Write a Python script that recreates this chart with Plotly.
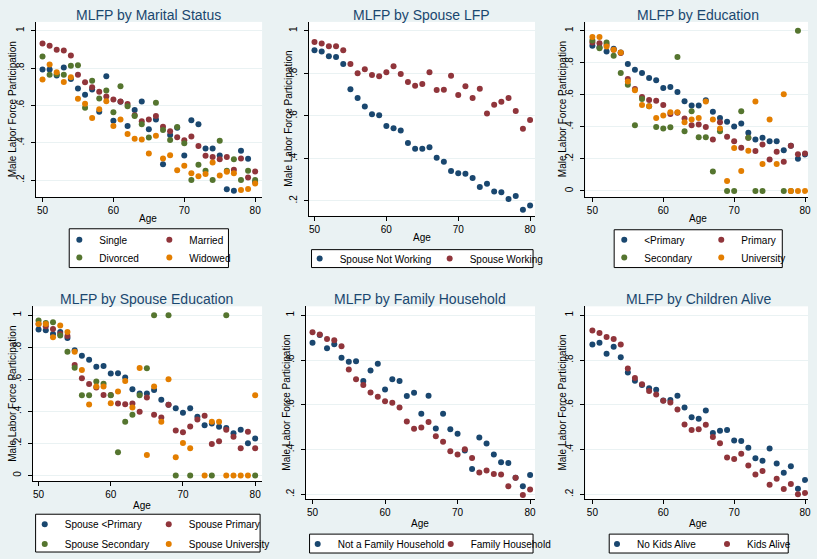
import plotly.graph_objects as go

AGE = list(range(50, 81))

# ---- MLFP by Marital Status
marital_single = [0.792, 0.792, 0.760, 0.804, 0.742, 0.691, 0.657, 0.685, 0.566, 0.756,
                  0.518, 0.620, 0.490, 0.575, 0.621, 0.472, 0.525, 0.285, 0.442, 0.480,
                  0.332, 0.520, 0.499, 0.369, 0.369, 0.332, 0.150, 0.143, 0.357, 0.314, 0.190]
marital_married = [0.932, 0.920, 0.899, 0.895, 0.868, 0.764, 0.724, 0.698, 0.673, 0.648,
                   0.632, 0.621, 0.607, 0.547, 0.515, 0.525, 0.543, 0.486, 0.461, 0.429,
                   0.413, 0.433, 0.383, 0.330, 0.324, 0.312, 0.323, 0.255, 0.316, 0.214, 0.246]
marital_divorced = [0.863, 0.764, 0.767, 0.764, 0.813, 0.815, 0.588, 0.732, 0.637, 0.680,
                    0.564, 0.703, 0.596, 0.543, 0.499, 0.428, 0.614, 0.468, 0.415, 0.484,
                    0.397, 0.200, 0.282, 0.250, 0.200, 0.410, 0.250, 0.312, 0.200, 0.250, 0.200]
marital_widowed = [0.739, 0.819, 0.778, 0.726, 0.751, 0.636, 0.609, 0.532, 0.579, 0.623,
                   0.490, 0.525, 0.447, 0.422, 0.417, 0.342, 0.438, 0.316, 0.333, 0.252,
                   0.276, 0.236, 0.220, 0.232, 0.294, 0.224, 0.244, 0.237, 0.147, 0.152, 0.182]

# ---- MLFP by Spouse LFP
spouse_not_working = [0.909, 0.903, 0.880, 0.877, 0.844, 0.725, 0.684, 0.644, 0.608, 0.603,
                      0.552, 0.542, 0.531, 0.472, 0.445, 0.445, 0.453, 0.403, 0.384, 0.341,
                      0.330, 0.328, 0.308, 0.266, 0.281, 0.244, 0.241, 0.209, 0.223, 0.158, 0.178]
spouse_working = [0.947, 0.941, 0.927, 0.928, 0.909, 0.844, 0.800, 0.819, 0.792, 0.786,
                  0.805, 0.833, 0.797, 0.759, 0.742, 0.750, 0.805, 0.722, 0.723, 0.789,
                  0.698, 0.739, 0.684, 0.727, 0.611, 0.652, 0.666, 0.684, 0.623, 0.539, 0.580]

# ---- MLFP by Education
edu_less_primary = [0.907, 0.898, 0.871, 0.888, 0.865, 0.793, 0.757, 0.737, 0.705, 0.691,
                    0.643, 0.649, 0.618, 0.560, 0.533, 0.533, 0.566, 0.494, 0.456, 0.432,
                    0.402, 0.421, 0.363, 0.322, 0.332, 0.311, 0.311, 0.255, 0.282, 0.201, 0.228]
edu_primary = [0.927, 0.923, 0.913, 0.882, 0.861, 0.699, 0.637, 0.587, 0.568, 0.564,
               0.537, 0.481, 0.488, 0.452, 0.411, 0.415, 0.400, 0.322, 0.429, 0.338,
               0.311, 0.270, 0.332, 0.249, 0.290, 0.197, 0.245, 0.183, 0.282, 0.230, 0.234]
edu_secondary = [0.940, 0.892, 0.927, 0.844, 0.737, 0.664, 0.411, 0.575, 0.529, 0.400,
                 0.390, 0.398, 0.836, 0.373, 0.498, 0.336, 0.336, 0.122, 0.373, 0.000,
                 0.000, 0.498, 0.332, 0.000, 0.000, None, None, 0.000, 0.000, 1.000, None]
edu_university = [0.961, 0.961, 0.902, 0.882, 0.865, 0.683, 0.629, 0.537, 0.529, 0.456,
                  0.471, 0.492, 0.492, 0.429, 0.446, 0.456, 0.558, 0.446, 0.390, 0.062,
                  0.268, 0.124, 0.251, 0.558, 0.168, 0.446, 0.168, 0.604, 0.000, 0.000, 0.000]

# ---- MLFP by Spouse Education
sp_edu_less_primary = [0.911, 0.907, 0.884, 0.896, 0.859, 0.781, 0.747, 0.723, 0.679, 0.683,
                       0.636, 0.638, 0.611, 0.538, 0.511, 0.511, 0.534, 0.472, 0.441, 0.420,
                       0.391, 0.420, 0.366, 0.313, 0.325, 0.304, 0.296, 0.263, 0.286, 0.201, 0.230]
sp_edu_primary = [0.946, 0.932, 0.915, 0.884, 0.870, 0.689, 0.607, 0.571, 0.549, 0.503,
                  0.503, 0.449, 0.445, 0.449, 0.398, 0.487, 0.379, 0.362, 0.441, 0.280,
                  0.269, 0.306, 0.350, 0.373, 0.197, 0.213, 0.286, 0.242, 0.170, 0.273, 0.170]
sp_edu_secondary = [0.967, 0.952, 0.957, 0.874, 0.772, 0.673, 0.501, 0.501, 0.586, 0.573,
                    0.501, 0.145, 0.335, 0.379, 0.501, 0.669, 1.000, None, 1.000, 0.000,
                    None, 0.000, None, None, 0.000, None, 1.000, None, None, None, 0.000]
sp_edu_university = [0.946, 0.946, 0.863, 0.936, 0.896, 0.772, 0.658, 0.443, 0.555, 0.555,
                     0.451, 0.524, 0.590, 0.424, 0.671, 0.128, 0.555, 0.335, 0.600, 0.114,
                     0.203, 0.170, None, 0.000, 0.335, 0.335, 0.000, 0.000, 0.000, 0.000, 0.501]

# ---- MLFP by Family Household
not_family_hh = [0.877, 0.912, 0.853, 0.871, 0.810, 0.792, 0.795, 0.706, 0.753, 0.783,
                 0.668, 0.714, 0.706, 0.639, 0.654, 0.560, 0.640, 0.494, 0.560, 0.491,
                 0.471, 0.396, 0.313, 0.454, 0.427, 0.378, 0.343, 0.340, 0.274, 0.236, 0.286]
family_hh = [0.924, 0.914, 0.894, 0.888, 0.862, 0.758, 0.714, 0.688, 0.655, 0.636,
             0.616, 0.609, 0.588, 0.526, 0.493, 0.499, 0.523, 0.459, 0.435, 0.393,
             0.378, 0.401, 0.362, 0.298, 0.306, 0.291, 0.289, 0.236, 0.274, 0.197, 0.222]

# ---- MLFP by Children Alive
no_kids_alive = [0.869, 0.877, 0.828, 0.859, 0.813, 0.744, 0.707, 0.688, 0.674, 0.667,
                 0.619, 0.622, 0.640, 0.588, 0.545, 0.538, 0.575, 0.474, 0.484, 0.487,
                 0.441, 0.438, 0.408, 0.361, 0.350, 0.405, 0.338, 0.297, 0.326, 0.225, 0.264]
kids_alive = [0.932, 0.921, 0.903, 0.894, 0.869, 0.762, 0.720, 0.692, 0.662, 0.646,
              0.618, 0.610, 0.579, 0.512, 0.488, 0.491, 0.511, 0.456, 0.428, 0.365,
              0.358, 0.381, 0.329, 0.289, 0.304, 0.243, 0.270, 0.224, 0.246, 0.200, 0.206]

YTICKS_02 = [0.2, 0.4, 0.6, 0.8, 1.0]
YTEXT_02 = [".2", ".4", ".6", ".8", "1"]
YTICKS_0 = [0.0, 0.2, 0.4, 0.6, 0.8, 1.0]
YTEXT_0 = ["0", ".2", ".4", ".6", ".8", "1"]
XTICKS = [50, 60, 70, 80]

NAVY, MAROON, GREEN, ORANGE = "#1a476f", "#90353b", "#55752f", "#e37e00"
BG = "#eaf2f3"
FONT = "Liberation Sans, Arial, sans-serif"
W, H = 817, 559


def fx(px):
    return px / W


def fy(py):
    return 1 - py / H


# layout of each panel in pixels: plot box (x0, x1, top, bottom), pixel anchors
# for the axis scales, title / axis-title placement and legend rows
panels = [
    dict(title="MLFP by Marital Status",
         series=[("Single", marital_single, NAVY), ("Married", marital_married, MAROON),
                 ("Divorced", marital_divorced, GREEN), ("Widowed", marital_widowed, ORANGE)],
         box=(36, 265, 22, 198), xa=(43, 258), ya=((31, 1.0), (181, 0.2)), yt=(YTICKS_02, YTEXT_02),
         tpos=(150, 15), ytx=13, xtpos=(150, 220),
         frame=(70, 231, 230, 269), rows=[(241, (78, 168)), (259, (78, 168))]),
    dict(title="MLFP by Spouse LFP",
         series=[("Spouse Not Working", spouse_not_working, NAVY),
                 ("Spouse Working", spouse_working, MAROON)],
         box=(312, 541, 22, 217), xa=(318, 536), ya=((31, 1.0), (202, 0.2)), yt=(YTICKS_02, YTEXT_02),
         tpos=(426, 15), ytx=292, xtpos=(427, 239),
         frame=(315, 539, 251, 269), rows=[(260, (321, 451))]),
    dict(title="MLFP by Education",
         series=[("<Primary", edu_less_primary, NAVY), ("Primary", edu_primary, MAROON),
                 ("Secondary", edu_secondary, GREEN), ("University", edu_university, ORANGE)],
         box=(592, 817, 22, 198), xa=(599, 814), ya=((31, 1.0), (192, 0.0)), yt=(YTICKS_0, YTEXT_0),
         tpos=(706, 15), ytx=569, xtpos=(706, 220),
         frame=(621, 791, 231, 269), rows=[(241, (629, 726)), (259, (629, 726))]),
    dict(title="MLFP by Spouse Education",
         series=[("Spouse <Primary", sp_edu_less_primary, NAVY),
                 ("Spouse Primary", sp_edu_primary, MAROON),
                 ("Spouse Secondary", sp_edu_secondary, GREEN),
                 ("Spouse University", sp_edu_university, ORANGE)],
         box=(33, 265, 308, 484), xa=(39, 258), ya=((317, 1.0), (478, 0.0)), yt=(YTICKS_0, YTEXT_0),
         tpos=(148, 301), ytx=13, xtpos=(144, 508),
         frame=(36, 263, 517, 555), rows=[(527, (43, 167)), (547, (43, 167))]),
    dict(title="MLFP by Family Household",
         series=[("Not a Family Household", not_family_hh, NAVY),
                 ("Family Household", family_hh, MAROON)],
         box=(309, 541, 308, 502), xa=(316, 536), ya=((317, 1.0), (497, 0.2)), yt=(YTICKS_02, YTEXT_02),
         tpos=(425, 301), ytx=290, xtpos=(425, 526),
         frame=(313, 539, 537, 556), rows=[(547, (319, 452))]),
    dict(title="MLFP by Children Alive",
         series=[("No Kids Alive", no_kids_alive, NAVY), ("Kids Alive", kids_alive, MAROON)],
         box=(592, 817, 308, 502), xa=(599, 814), ya=((317, 1.0), (497, 0.2)), yt=(YTICKS_02, YTEXT_02),
         tpos=(706, 301), ytx=569, xtpos=(706, 526),
         frame=(616, 797, 537, 556), rows=[(547, (622, 732))]),
]

fig = go.Figure()
layout = dict(width=W, height=H, margin=dict(l=0, r=0, t=0, b=0),
              paper_bgcolor=BG, plot_bgcolor="white",
              font=dict(family=FONT, size=10, color="black"),
              showlegend=True, annotations=[], shapes=[])

legend_count = 0
for i, p in enumerate(panels, start=1):
    sfx = "" if i == 1 else str(i)
    x0, x1, top, bot = p["box"]
    p50, p80 = p["xa"]
    sx = (p80 - p50) / 30.0
    xr = [50 - (p50 - x0) / sx, 80 + (x1 - p80) / sx]
    (pa, va), (pb, vb) = p["ya"]
    sy = (pb - pa) / (va - vb)
    yr = [vb - (bot - pb) / sy, va + (pa - top) / sy]

    layout["xaxis" + sfx] = dict(domain=[fx(x0), fx(x1)], anchor="y" + sfx, range=xr,
                                 tickvals=XTICKS, ticks="outside", ticklen=4, tickcolor="black",
                                 showline=True, linecolor="black", linewidth=1,
                                 showgrid=False, zeroline=False,
                                 tickfont=dict(size=10, color="black"))
    layout["yaxis" + sfx] = dict(domain=[fy(bot), fy(top)], anchor="x" + sfx, range=yr,
                                 tickvals=p["yt"][0], ticktext=p["yt"][1], tickangle=-90,
                                 ticks="outside", ticklen=4, tickcolor="black",
                                 ticklabelstandoff=3,
                                 showline=True, linecolor="black", linewidth=1,
                                 showgrid=True, gridcolor=BG, gridwidth=1, zeroline=False,
                                 tickfont=dict(size=10, color="black"))

    # legend rows: two entries per row
    row_names = []
    for (ry, (m1, m2)) in p["rows"]:
        legend_count += 1
        lname = "legend" if legend_count == 1 else "legend" + str(legend_count)
        row_names.append(lname)
        layout[lname] = dict(orientation="h", x=fx(m1 - 18), y=fy(ry), xanchor="left",
                             yanchor="middle", bgcolor="rgba(0,0,0,0)", borderwidth=0,
                             entrywidth=(m2 - m1) - 45, entrywidthmode="pixels",
                             itemwidth=30, font=dict(size=10, color="black"),
                             tracegroupgap=0, itemclick=False, itemdoubleclick=False)

    for k, (name, vals, col) in enumerate(p["series"]):
        fig.add_trace(go.Scatter(x=AGE, y=vals, mode="markers", name=name,
                                 marker=dict(color=col, size=6, line=dict(width=0)),
                                 xaxis="x" + sfx, yaxis="y" + sfx,
                                 legend=row_names[k // 2]))

    fx0, fx1, fy0, fy1 = p["frame"]
    layout["shapes"].append(dict(type="rect", xref="paper", yref="paper",
                                 x0=fx(fx0), x1=fx(fx1), y0=fy(fy1), y1=fy(fy0),
                                 line=dict(color="black", width=1), fillcolor="white",
                                 layer="below"))

    layout["annotations"].append(dict(text=p["title"], xref="paper", yref="paper",
                                      x=fx(p["tpos"][0]), y=fy(p["tpos"][1]),
                                      xanchor="center", yanchor="middle", showarrow=False,
                                      font=dict(size=14, color=NAVY, family=FONT)))
    layout["annotations"].append(dict(text="Male Labor Force Participation", xref="paper",
                                      yref="paper", x=fx(p["ytx"]), y=fy((top + bot) / 2),
                                      xanchor="center", yanchor="middle", textangle=-90,
                                      showarrow=False, font=dict(size=10, color="black")))
    layout["annotations"].append(dict(text="Age", xref="paper", yref="paper",
                                      x=fx(p["xtpos"][0]), y=fy(p["xtpos"][1]),
                                      xanchor="center", yanchor="middle", showarrow=False,
                                      font=dict(size=10, color="black")))

fig.update_layout(**layout)
fig.write_html("out.html")
